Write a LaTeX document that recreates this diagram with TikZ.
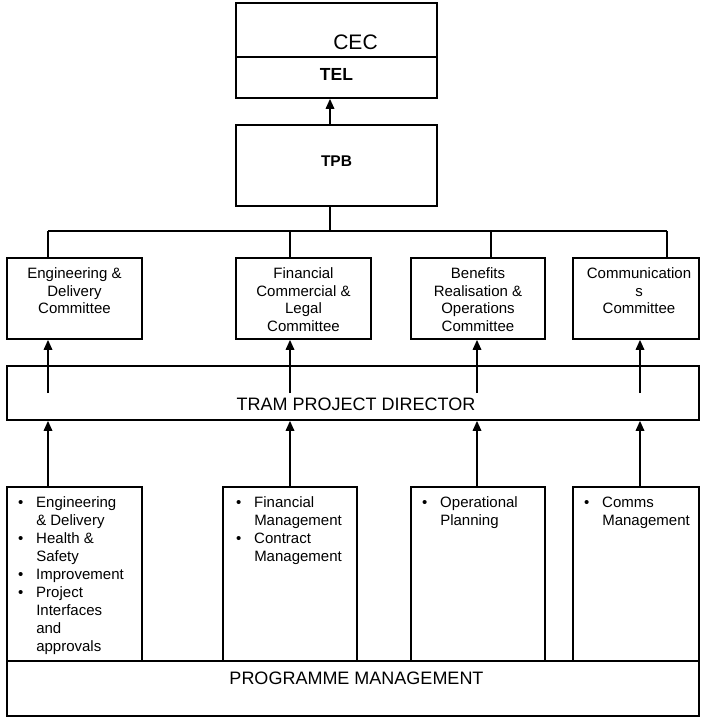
\documentclass[tikz,border=0pt]{standalone}
\usepackage{fontspec}
\setmainfont{Liberation Sans}
\usetikzlibrary{arrows.meta}

\begin{document}
\begin{tikzpicture}[x=1pt,y=-1pt,line width=1.7pt,>={Triangle[length=10pt,width=8.5pt]},
  box/.style={draw,rectangle,inner sep=0pt,minimum height=81pt},
  title/.style={anchor=north,inner sep=0pt},
  ctext/.style={anchor=north,inner sep=0pt,align=center,yshift=-10pt,font=\fontsize{15}{17.5}\selectfont},
  blist/.style={anchor=north west,inner sep=0pt,xshift=11pt,yshift=-7.5pt,font=\fontsize{15}{18}\selectfont}]
\useasboundingbox (0,0) rectangle (701,717);

% Top boxes
\node[box,minimum width=201pt,minimum height=54pt,label={[title,font=\fontsize{21}{25}\selectfont,xshift=19pt,yshift=-32pt]north:CEC}] (cec) at (336.5,30) {};
\node[box,minimum width=201pt,minimum height=41pt,label={[title,font=\bfseries\fontsize{17.5}{21}\selectfont,yshift=-11.3pt]north:TEL}] (tel) at (336.5,77.5) {};
\node[box,minimum width=201pt,label={[title,font=\bfseries\fontsize{15.5}{19}\selectfont,yshift=-31pt]north:TPB}] (tpb) at (336.5,165.5) {};

% Committees
\node[box,minimum width=135pt,label={[ctext]north:{Engineering \&\\Delivery\\Committee}}] (edc) at (74.5,298.5) {};
\node[box,minimum width=135pt,label={[ctext]north:{Financial\\Commercial \&\\Legal\\Committee}}] (fclc) at (303.5,298.5) {};
\node[box,minimum width=134pt,label={[ctext]north:{Benefits\\Realisation \&\\Operations\\Committee}}] (broc) at (478,298.5) {};
\node[box,minimum width=126pt,label={[ctext,xshift=3pt]north:{Communication\\s\\Committee}}] (comc) at (636,298.5) {};

% Director bar
\node[box,minimum width=692pt,minimum height=54pt,label={[title,font=\fontsize{18}{22}\selectfont,xshift=3pt,yshift=-32pt]north:TRAM PROJECT DIRECTOR}] (tpd) at (353,393) {};

% Work streams
\node[box,minimum width=135pt,minimum height=174pt,label={[blist]north west:{\begin{tabular}{@{}l@{\hspace{13pt}}l@{}}
\textbullet & Engineering\\ & \& Delivery\\
\textbullet & Health \&\\ & Safety\\
\textbullet & Improvement\\
\textbullet & Project\\ & Interfaces\\ & and\\ & approvals
\end{tabular}}}] (eng) at (74.5,574) {};
\node[box,minimum width=134pt,minimum height=174pt,label={[blist,xshift=2pt]north west:{\begin{tabular}{@{}l@{\hspace{13pt}}l@{}}
\textbullet & Financial\\ & Management\\
\textbullet & Contract\\ & Management
\end{tabular}}}] (fin) at (290,574) {};
\node[box,minimum width=134pt,minimum height=174pt,label={[blist]north west:{\begin{tabular}{@{}l@{\hspace{13pt}}l@{}}
\textbullet & Operational\\ & Planning
\end{tabular}}}] (ops) at (478,574) {};
\node[box,minimum width=126pt,minimum height=174pt,label={[blist]north west:{\begin{tabular}{@{}l@{\hspace{13pt}}l@{}}
\textbullet & Comms\\ & Management
\end{tabular}}}] (cms) at (636,574) {};

% Programme bar
\node[box,minimum width=692pt,minimum height=55pt,label={[title,font=\fontsize{18}{22}\selectfont,xshift=3.5pt,yshift=-11.3pt]north:PROGRAMME MANAGEMENT}] (pm) at (353,688.5) {};

% Bus below TPB
\coordinate (bus) at (330,231);
\coordinate (d1) at (48,231);
\coordinate (d2) at (290,231);
\coordinate (d3) at (491,231);
\coordinate (d4) at (667,231);
\draw[->] (bus |- tpb.north) -- (bus |- tel.south);
\draw (bus |- tpb.south) -- (bus);
\draw (d1) -- (d4);
\draw (d1) -- (d1 |- edc.north);
\draw (d2) -- (d2 |- fclc.north);
\draw (d3) -- (d3 |- broc.north);
\draw (d4) -- (d4 |- comc.north);

% Reporting arrows
\coordinate (c1) at (48,393);
\coordinate (c2) at (290,393);
\coordinate (c3) at (477,393);
\coordinate (c4) at (640,393);
\draw[->] (c1) -- (c1 |- edc.south);
\draw[->] (c2) -- (c2 |- fclc.south);
\draw[->] (c3) -- (c3 |- broc.south);
\draw[->] (c4) -- (c4 |- comc.south);
\draw[->] (c1 |- eng.north) -- (c1 |- tpd.south);
\draw[->] (c2 |- fin.north) -- (c2 |- tpd.south);
\draw[->] (c3 |- ops.north) -- (c3 |- tpd.south);
\draw[->] (c4 |- cms.north) -- (c4 |- tpd.south);
\end{tikzpicture}
\end{document}
